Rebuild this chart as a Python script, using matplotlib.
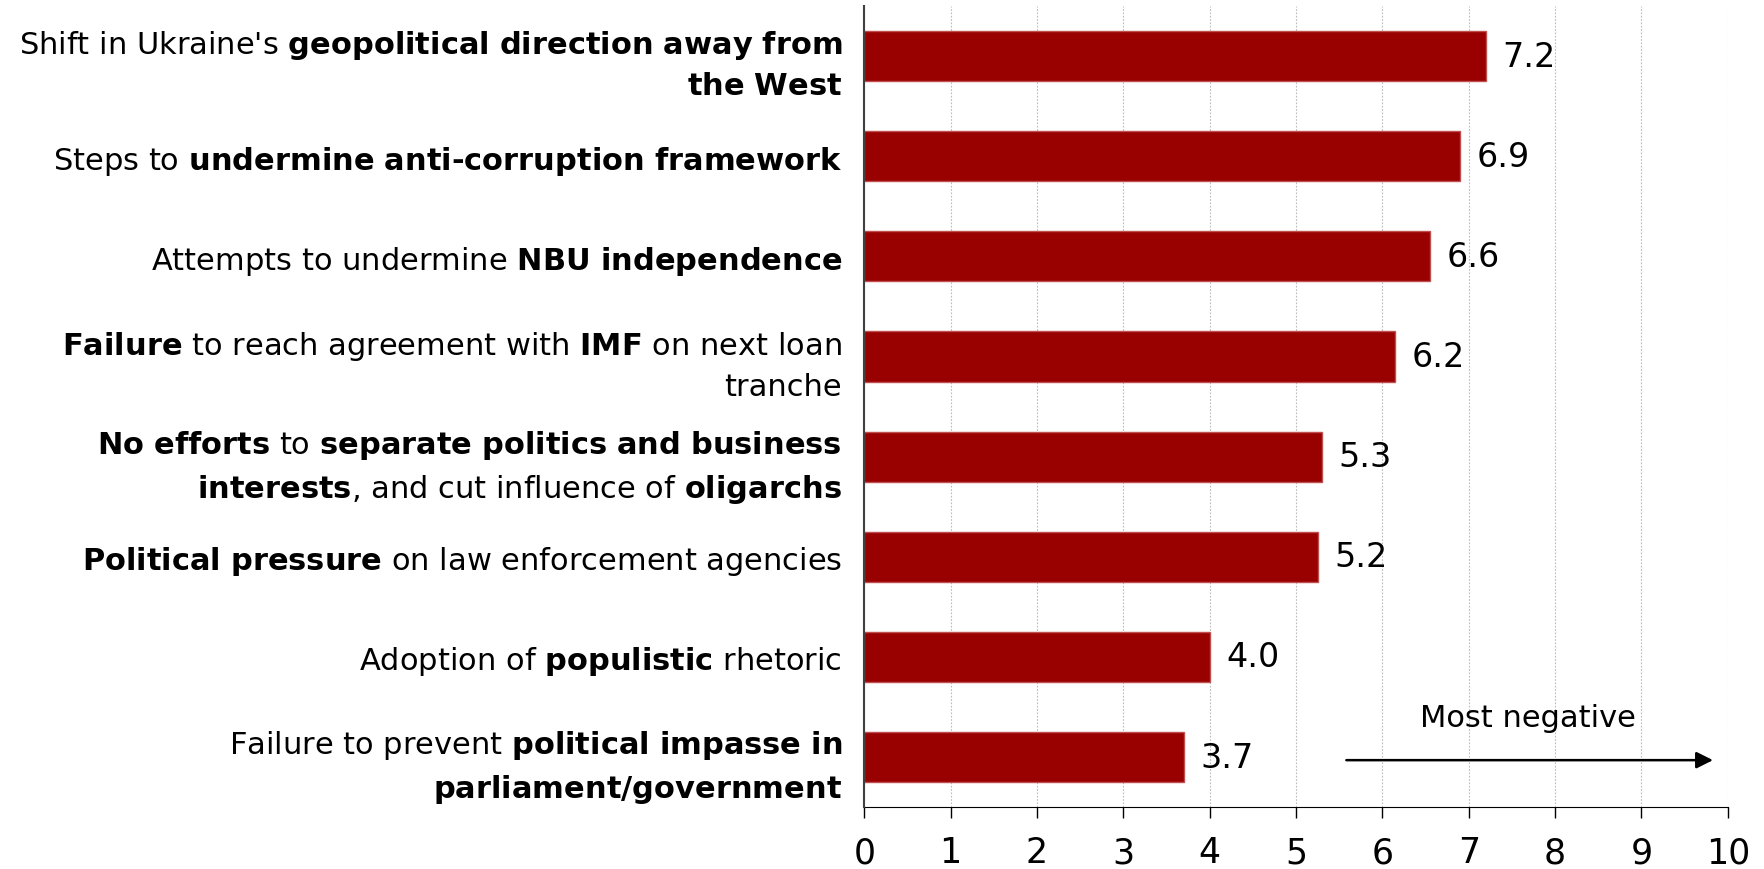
import numpy as np
import matplotlib
matplotlib.use('Agg')
import matplotlib.pyplot as plt

plt.rcParams['font.family'] = 'DejaVu Sans'
plt.rcParams['mathtext.fontset'] = 'custom'
plt.rcParams['mathtext.rm'] = 'DejaVu Sans'
plt.rcParams['mathtext.bf'] = 'DejaVu Sans:bold'

# labels from top to bottom, bold parts written as mathtext
labels = [
    "Shift in Ukraine's $\\mathbf{geopolitical\\ direction\\ away\\ from}$\n$\\mathbf{the\\ West}$",
    "Steps to $\\mathbf{undermine\\ anti\u2010corruption\\ framework}$",
    "Attempts to undermine $\\mathbf{NBU\\ independence}$",
    "$\\mathbf{Failure}$ to reach agreement with $\\mathbf{IMF}$ on next loan\ntranche",
    "$\\mathbf{No\\ efforts}$ to $\\mathbf{separate\\ politics\\ and\\ business}$\n$\\mathbf{interests}$, and cut influence of $\\mathbf{oligarchs}$",
    "$\\mathbf{Political\\ pressure}$ on law enforcement agencies",
    "Adoption of $\\mathbf{populistic}$ rhetoric",
    "Failure to prevent $\\mathbf{political\\ impasse\\ in}$\n$\\mathbf{parliament/government}$",
]
values = [7.2, 6.9, 6.55, 6.15, 5.3, 5.25, 4.0, 3.7]
value_text = ['7.2', '6.9', '6.6', '6.2', '5.3', '5.2', '4.0', '3.7']

fig = plt.figure(figsize=(17.64, 8.7), dpi=100)
ax = fig.add_axes([0.490, 0.071, 0.4895, 0.921])

y = np.arange(len(labels))
ax.barh(y, values, height=0.5, color='#990000', edgecolor='#c05050', linewidth=1, zorder=3)

for yi, v, t in zip(y, values, value_text):
    ax.annotate(t, (v, yi), xytext=(12, 0), textcoords='offset points',
                va='center', ha='left', fontsize=24)

ax.set_xlim(0, 10)
ax.set_ylim(len(labels) - 0.5, -0.5)
ax.set_xticks(range(11))
ax.tick_params(axis='x', labelsize=25, length=8, width=1, pad=12, direction='out')
ax.set_yticks(y)
ax.set_yticklabels(labels, fontsize=22)
for lab in ax.get_yticklabels():
    lab.set_multialignment('right')
    lab.set_linespacing(1.45)
ax.tick_params(axis='y', length=0, pad=16)

ax.grid(axis='x', color='#bbbbbb', linestyle=(0, (1.5, 1.5)), linewidth=0.8, zorder=0)
ax.spines['top'].set_visible(False)
ax.spines['right'].set_visible(False)
ax.spines['left'].set_color('#404040')
ax.spines['left'].set_linewidth(1.5)
ax.spines['left'].set_zorder(4)

# arrow annotation
ax.annotate('', xy=(9.86, 7.03), xytext=(5.55, 7.03),
            arrowprops=dict(arrowstyle='-|>', color='black', lw=1.8, mutation_scale=25))
ax.text(7.68, 6.6, 'Most negative', ha='center', va='center', fontsize=22)

plt.savefig('out.png')
